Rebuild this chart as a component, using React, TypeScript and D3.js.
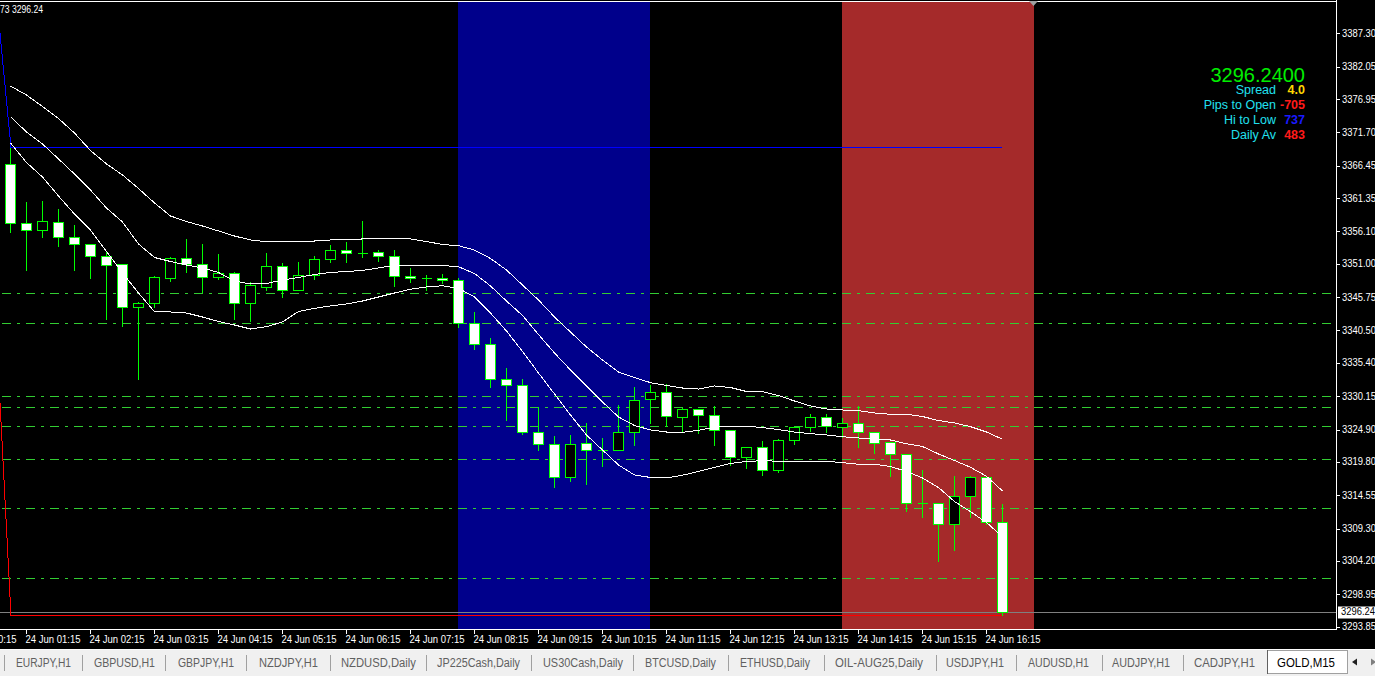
import React from 'react';
import * as d3 from 'd3';

const W = 1375;
const H = 676;

// ---- data (GOLD, M15, 24 Jun) ----
const opens = [3366.67,3357.38,3356.28,3357.54,3355.17,3354.07,3352.18,3350.92,3344.15,3344.78,3348.72,3351.87,3350.92,3348.88,3349.51,3344.88,3347.40,3350.61,3346.92,3349.19,3351.71,3353.13,3352.70,3352.81,3352.18,3349.03,3348.70,3348.72,3348.40,3341.63,3338.32,3332.81,3331.87,3324.56,3322.58,3317.47,3322.73,3321.68,3321.73,3324.47,3329.66,3330.77,3326.83,3328.09,3327.14,3324.78,3320.53,3322.10,3318.48,3323.21,3325.25,3326.83,3325.25,3325.88,3324.47,3322.89,3321.00,3313.33,3313.38,3309.98,3314.48,3317.38,3310.29];
const highs = [3369.35,3360.89,3361.05,3359.74,3357.27,3354.28,3353.13,3351.08,3345.10,3349.24,3352.23,3355.02,3354.23,3352.65,3349.87,3348.25,3352.86,3351.28,3351.44,3352.34,3354.07,3354.54,3357.90,3353.33,3353.33,3350.45,3349.35,3349.51,3348.88,3343.57,3339.43,3334.75,3333.02,3328.61,3323.99,3324.15,3326.04,3323.68,3328.92,3331.76,3332.07,3332.18,3328.45,3328.29,3328.72,3324.83,3322.26,3323.21,3323.52,3325.30,3327.46,3327.46,3326.83,3328.72,3324.50,3322.95,3321.05,3318.64,3313.40,3317.69,3317.69,3317.69,3313.28];
const lows = [3356.06,3350.07,3355.27,3353.85,3350.07,3348.81,3342.36,3341.25,3332.91,3344.25,3348.34,3349.76,3346.61,3348.65,3342.36,3342.04,3346.92,3345.73,3346.85,3348.65,3351.33,3351.33,3352.12,3351.49,3347.55,3348.18,3346.92,3348.02,3341.10,3337.54,3331.65,3326.45,3324.25,3321.73,3315.90,3316.84,3316.37,3319.21,3321.70,3322.51,3325.98,3325.41,3324.72,3324.40,3322.51,3319.36,3318.89,3317.79,3318.26,3322.67,3324.72,3324.56,3323.68,3322.20,3321.16,3317.63,3312.02,3311.17,3304.25,3305.98,3311.17,3309.98,3295.65];
const closes = [3357.38,3356.28,3357.74,3355.17,3354.07,3352.18,3350.77,3344.15,3344.78,3348.88,3351.87,3350.92,3348.88,3349.51,3344.88,3347.62,3350.61,3346.92,3349.19,3351.71,3353.13,3352.65,3352.70,3352.18,3349.03,3348.72,3348.70,3348.40,3341.63,3338.32,3332.81,3331.87,3324.56,3322.58,3317.47,3322.58,3321.63,3321.68,3324.47,3329.51,3330.77,3326.99,3328.09,3327.14,3324.78,3320.53,3322.10,3318.48,3323.21,3325.25,3326.83,3325.41,3325.88,3324.47,3322.73,3321.00,3313.28,3313.33,3309.98,3314.48,3317.38,3310.29,3296.24];

const upperBand = [3379.00,3377.58,3375.77,3373.88,3371.60,3368.84,3366.72,3364.99,3362.86,3360.58,3358.53,3357.66,3356.95,3356.17,3355.38,3354.75,3354.48,3354.48,3354.48,3354.59,3354.75,3354.83,3354.91,3354.99,3354.99,3354.91,3354.51,3354.04,3353.85,3353.17,3351.84,3350.02,3347.66,3345.30,3342.62,3340.26,3337.90,3335.85,3333.96,3333.10,3332.28,3331.84,3331.44,3331.28,3331.76,3331.52,3330.89,3330.86,3330.26,3329.39,3328.61,3328.14,3327.98,3327.87,3327.51,3327.30,3327.30,3326.95,3326.32,3325.93,3325.35,3324.51,3323.36];
const middleBand = [3374.17,3371.76,3369.87,3367.51,3365.14,3362.62,3359.79,3357.58,3354.12,3351.99,3351.36,3350.81,3350.34,3349.63,3348.29,3347.82,3347.90,3348.45,3348.84,3349.32,3349.63,3349.79,3349.95,3350.34,3350.76,3350.76,3350.76,3350.73,3350.54,3349.47,3347.51,3345.14,3342.86,3339.87,3336.95,3334.28,3331.76,3329.24,3326.88,3325.54,3324.83,3324.51,3324.47,3324.78,3325.25,3325.41,3325.41,3325.22,3324.88,3324.51,3324.25,3324.04,3323.77,3323.57,3323.36,3323.25,3322.65,3322.23,3321.05,3320.02,3318.95,3317.54,3315.22];
const lowerBand = [3370.02,3366.95,3364.67,3361.68,3358.84,3356.32,3352.94,3349.55,3346.40,3343.46,3343.41,3343.25,3342.62,3341.91,3341.36,3340.73,3341.10,3341.84,3343.49,3343.99,3344.36,3344.67,3345.14,3345.77,3346.40,3346.99,3347.35,3347.55,3347.14,3345.77,3343.25,3340.42,3337.19,3333.80,3330.50,3327.19,3324.04,3321.68,3319.32,3317.74,3317.35,3317.27,3317.71,3318.29,3318.95,3319.55,3319.87,3319.99,3319.91,3319.84,3319.87,3319.91,3319.68,3319.43,3319.43,3319.08,3318.29,3317.27,3315.77,3313.57,3311.96,3310.26,3308.02];

const levels = [3346.36, 3341.63, 3330.14, 3328.40, 3325.41, 3320.21, 3312.50, 3301.47];

const priceTicks = [3387.30,3382.05,3376.95,3371.70,3366.45,3361.35,3356.10,3351.00,3345.75,3340.50,3335.40,3330.15,3324.90,3319.80,3314.55,3309.30,3304.20,3298.95,3293.85];

const timeLabels = ["24 Jun 00:15","24 Jun 01:15","24 Jun 02:15","24 Jun 03:15","24 Jun 04:15","24 Jun 05:15","24 Jun 06:15","24 Jun 07:15","24 Jun 08:15","24 Jun 09:15","24 Jun 10:15","24 Jun 11:15","24 Jun 12:15","24 Jun 13:15","24 Jun 14:15","24 Jun 15:15","24 Jun 16:15"];
const timeLabelBars = [-3,1,5,9,13,17,21,25,29,33,37,41,45,49,53,57,61];

// session boxes: [startBar, endBar]
const sessions = [
  { start: 28, end: 40, color: '#00008b' },
  { start: 52, end: 64, color: '#a52a2a' },
];

const bid = 3296.24;
const dayHigh = 3369.35;
const dayLow = 3295.65;
const prevHighRef = 3397.11;
const prevLowRef = 3347.5;

const infoLabels = ['Spread', 'Pips to Open', 'Hi to Low', 'Daily Av'];
const infoValues = ['4.0', '-705', '737', '483'];
const infoColors = ['#ffd700', '#ff1a1a', '#1a1aff', '#ff1a1a'];

const tabs = ['EURJPY,H1','GBPUSD,H1','GBPJPY,H1','NZDJPY,H1','NZDUSD,Daily','JP225Cash,Daily','US30Cash,Daily','BTCUSD,Daily','ETHUSD,Daily','OIL-AUG25,Daily','USDJPY,H1','AUDUSD,H1','AUDJPY,H1','CADJPY,H1','GOLD,M15'];
// layout only (x start of text, text width)
const tabLayout = [[16,55],[94,61],[178,56],[259,59],[341,75],[437,83],[543,80],[645,71],[740,70],[835,88],[946,58],[1028,61],[1112,58],[1194,61],[1277,58]];
const tabSeps = [4,82,165,246,330,426,531,633,728,824,936,1016,1102,1183];

export default function App() {
  const x = d3.scaleLinear().domain([0, 1]).range([10, 26]);
  const y = d3.scaleLinear().domain([3293.85, 3387.3]).range([626.7, 33.3]);
  const chartBottom = 630;
  const axisX = 1336;
  const px = (v: number) => Math.round(v) + 0.5;

  const bandLine = d3.line<number>().x((_, i) => x(i) + 0.5).y((v) => y(v));
  const idx = d3.range(opens.length);

  const font = '"Liberation Sans", Arial, sans-serif';

  return (
    <svg width={W} height={H} style={{ position: 'fixed', left: 0, top: 0, display: 'block' }}>
      <rect x={0} y={0} width={W} height={H} fill="#000" />
      {sessions.map((s, i) => (
        <rect key={i} x={x(s.start)} y={2} width={x(s.end) - x(s.start)} height={chartBottom - 2} fill={s.color} />
      ))}
      {levels.map((v, i) => (
        <line key={i} x1={0} x2={axisX} y1={px(y(v))} y2={px(y(v))} stroke="#32cd32" strokeWidth={1}
          strokeDasharray="9,6,3,6" strokeDashoffset={22} shapeRendering="crispEdges" />
      ))}
      <line x1={0} x2={axisX} y1={px(y(bid))} y2={px(y(bid))} stroke="#808080" shapeRendering="crispEdges" />
      <path d={`M${x(-1)},${y(prevHighRef)}L${x(0) + 1},${px(y(dayHigh))}L${x(62)},${px(y(dayHigh))}`} fill="none" stroke="#0000ff" shapeRendering="crispEdges" />
      <path d={`M${x(-1)},${y(prevLowRef)}L${x(0) + 1},${px(y(dayLow))}L${x(62)},${px(y(dayLow))}`} fill="none" stroke="#ff0000" shapeRendering="crispEdges" />
      {idx.map((i) => {
        const cx = x(i) + 0.5;
        const o = opens[i], c = closes[i];
        const yTop = px(y(Math.max(o, c)));
        const yBot = px(y(Math.min(o, c)));
        const bull = c > o;
        return (
          <g key={i} shapeRendering="crispEdges">
            <line x1={cx} x2={cx} y1={px(y(highs[i]))} y2={px(y(lows[i]))} stroke="#00ff00" />
            {yBot - yTop < 1 ? (
              <line x1={cx - 5} x2={cx + 5} y1={yTop} y2={yTop} stroke="#00ff00" strokeWidth={1} />
            ) : (
              <rect x={cx - 5} y={yTop} width={10} height={yBot - yTop} fill={bull ? '#000' : '#fff'} stroke="#00ff00" />
            )}
          </g>
        );
      })}
      {[upperBand, middleBand, lowerBand].map((b, i) => (
        <path key={i} d={bandLine(b) || ''} fill="none" stroke="#fff" strokeWidth={1} shapeRendering="crispEdges" />
      ))}
      <line x1={0} x2={axisX + 1} y1={1.5} y2={1.5} stroke="#fff" shapeRendering="crispEdges" />
      <line x1={axisX + 0.5} x2={axisX + 0.5} y1={0} y2={chartBottom} stroke="#fff" shapeRendering="crispEdges" />
      <line x1={0} x2={axisX + 1} y1={chartBottom - 0.5} y2={chartBottom - 0.5} stroke="#fff" shapeRendering="crispEdges" />
      <polygon points="1029,1 1038,1 1033.5,6" fill="#a0a0a0" />
      {priceTicks.map((v, i) => (
        <g key={i}>
          <line x1={axisX} x2={axisX + 4} y1={px(y(v))} y2={px(y(v))} stroke="#fff" shapeRendering="crispEdges" />
          <text x={1342} y={y(v) + 3.5} fill="#fff" fontFamily={font} fontSize={10} textLength={34} lengthAdjust="spacingAndGlyphs">{v.toFixed(2)}</text>
        </g>
      ))}
      <rect x={1338} y={px(y(bid)) - 6} width={40} height={12} fill="#fff" />
      <text x={1341} y={y(bid) + 3.5} fill="#000" fontFamily={font} fontSize={10} textLength={34} lengthAdjust="spacingAndGlyphs">{bid.toFixed(2)}</text>
      {timeLabels.map((t, i) => {
        const tx = x(timeLabelBars[i]) + 0.5;
        return (
          <g key={i}>
            <line x1={tx} x2={tx} y1={chartBottom} y2={chartBottom + 4} stroke="#fff" shapeRendering="crispEdges" />
            <text x={tx - 1} y={643} fill="#fff" fontFamily={font} fontSize={10} textLength={55} lengthAdjust="spacingAndGlyphs">{t}</text>
          </g>
        );
      })}
      <text x={0} y={12.5} fill="#fff" fontFamily={font} fontSize={10} textLength={43} lengthAdjust="spacingAndGlyphs">73 3296.24</text>
      <text x={1305} y={81.5} fill="#00ee00" fontFamily={font} fontSize={20} textAnchor="end">{bid.toFixed(4)}</text>
      {infoLabels.map((l, i) => (
        <g key={i}>
          <text x={1276} y={93.5 + i * 15} fill="#20e0f0" fontFamily={font} fontSize={12.5} textAnchor="end">{l}</text>
          <text x={1305} y={93.5 + i * 15} fill={infoColors[i]} fontFamily={font} fontSize={12.5} fontWeight="bold" textAnchor="end">{infoValues[i]}</text>
        </g>
      ))}
      <rect x={0} y={649} width={W} height={27} fill="#f0f0f0" />
      <line x1={0} x2={W} y1={649.5} y2={649.5} stroke="#ffffff" />
      <rect x={1267.5} y={650.5} width={80} height={23} fill="#fff" stroke="#a0a0a0" />
      <line x1={1267.5} x2={1267.5} y1={650} y2={674} stroke="#606060" />
      {tabSeps.map((s, i) => (
        <line key={i} x1={s + 0.5} x2={s + 0.5} y1={655} y2={671} stroke="#a0a0a0" shapeRendering="crispEdges" />
      ))}
      {tabs.map((t, i) => (
        <text key={i} x={tabLayout[i][0]} y={667} fill={i === tabs.length - 1 ? '#000' : '#606060'} fontFamily={font} fontSize={12.5}
          textLength={tabLayout[i][1]} lengthAdjust="spacingAndGlyphs">{t}</text>
      ))}
      <polygon points="1352,662 1357,658.5 1357,665.5" fill="#202020" />
      <polygon points="1371,658.5 1376,662 1371,665.5" fill="#808080" />
    </svg>
  );
}
